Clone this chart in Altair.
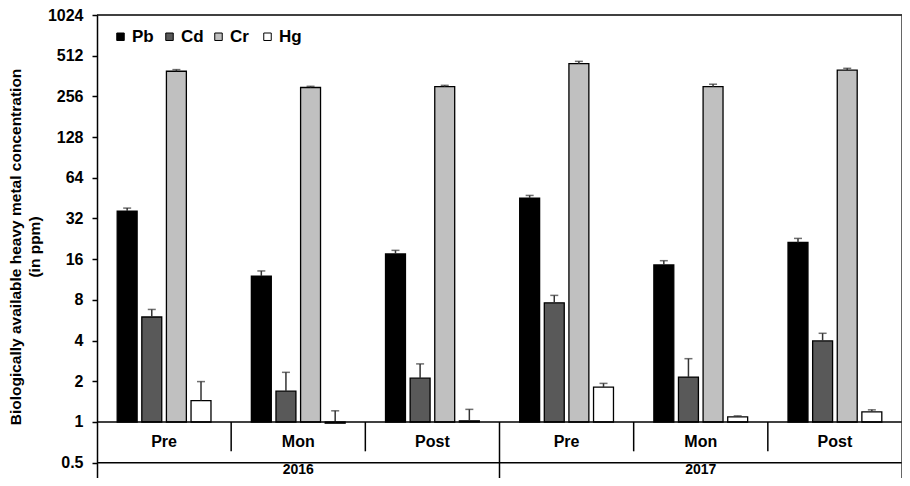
import altair as alt
import pandas as pd

# ---------------- data ----------------
groups = ["2016 Pre", "2016 Mon", "2016 Post", "2017 Pre", "2017 Mon", "2017 Post"]
seasons = ["Pre", "Mon", "Post", "Pre", "Mon", "Post"]
years = ["2016", "2016", "2016", "2017", "2017", "2017"]
metals = ["Pb", "Cd", "Cr", "Hg"]

pb = [36.3, 12.0, 17.5, 45.3, 14.5, 21.3]
pb_err = [1.9, 1.1, 1.1, 2.1, 1.1, 1.5]
cd = [5.98, 1.69, 2.11, 7.61, 2.15, 3.98]
cd_err = [0.82, 0.64, 0.58, 1.03, 0.79, 0.55]
cr = [393, 298, 302, 447, 302, 400]
cr_err = [11, 6, 7, 18, 13, 13]
hg = [1.44, 0.98, 1.02, 1.81, 1.09, 1.19]
hg_err = [0.55, 0.23, 0.22, 0.12, 0.02, 0.04]

metal_colors = ["#000000", "#595959", "#c0c0c0", "#ffffff"]
y_ticks = [0.5, 1, 2, 4, 8, 16, 32, 64, 128, 256, 512, 1024]
y_title = ["Biologically available heavy metal concentration", "(in ppm)"]

FONT = "Liberation Sans"
BASE = 1.0           # category axis crosses at 1
Y_MAX = 1024
Y_MIN = 2 ** -1.376  # bottom of the value axis (below 0.5, room for the year row)
SEASON_ROW = 0.707
YEAR_ROW = 0.4451
SEP_LOW = 0.607

# ---------------- tables ----------------
rows = []
for metal, vals, errs in [("Pb", pb, pb_err), ("Cd", cd, cd_err),
                          ("Cr", cr, cr_err), ("Hg", hg, hg_err)]:
    for g, v, e in zip(groups, vals, errs):
        rows.append({"group": g, "metal": metal, "value": v, "top": v + e, "base": BASE})
df = pd.DataFrame(rows)

season_df = pd.DataFrame({"group": groups, "label": seasons, "ly": [SEASON_ROW] * 6})
year_df = pd.DataFrame({"group": [groups[1], groups[4]], "label": [years[1], years[4]],
                        "ly": [YEAR_ROW] * 2})
sep_df = pd.DataFrame({
    "group": ["2016 Mon", "2016 Post", "2017 Pre", "2017 Mon", "2017 Post"],
    "top": [BASE] * 5,
    "bottom": [SEP_LOW, SEP_LOW, Y_MIN, SEP_LOW, SEP_LOW],
})
line_df = pd.DataFrame({"level": [1, 0.5, Y_MAX]})
frame_df = pd.DataFrame({"group": [groups[-1]], "top": [Y_MAX], "bottom": [Y_MIN]})

x_scale = alt.Scale(domain=groups, paddingInner=0, paddingOuter=0)
x_enc = alt.X("group:N", sort=groups, scale=x_scale, axis=None)
xo_enc = alt.XOffset("metal:N", sort=metals,
                     scale=alt.Scale(domain=metals, paddingInner=0.19, paddingOuter=0.82))
y_scale = alt.Scale(type="log", base=2, domain=[Y_MIN, Y_MAX], nice=False)

bars = alt.Chart(df).mark_bar(stroke="#000000", strokeWidth=1.3).encode(
    x=x_enc,
    xOffset=xo_enc,
    y=alt.Y("value:Q", scale=y_scale,
            axis=alt.Axis(values=y_ticks, format="~g", title=y_title, grid=False)),
    y2="base:Q",
    fill=alt.Fill("metal:N", sort=metals,
                  scale=alt.Scale(domain=metals, range=metal_colors),
                  legend=alt.Legend(title=None, orient="none", legendX=15, legendY=13,
                                    direction="horizontal", symbolType="square",
                                    symbolSize=56, symbolStrokeColor="#000000",
                                    symbolStrokeWidth=1, labelFont=FONT,
                                    labelFontSize=17, labelFontWeight="bold",
                                    labelColor="#000000", columnPadding=6,
                                    gridAlign="all", labelOffset=3)),
)

stems = alt.Chart(df).mark_rule(color="#333333", strokeWidth=1.5).encode(
    x=x_enc, xOffset=xo_enc, y="value:Q", y2="top:Q")

caps = alt.Chart(df).mark_tick(color="#333333", thickness=1.5, size=8).encode(
    x=x_enc, xOffset=xo_enc, y="top:Q")

hlines = alt.Chart(line_df).mark_rule(color="#000000", strokeWidth=1.5).encode(
    y="level:Q")

seps = alt.Chart(sep_df).mark_rule(color="#000000", strokeWidth=1.5).encode(
    x=alt.X("group:N", sort=groups, bandPosition=0, axis=None),
    y="top:Q", y2="bottom:Q")

right_edge = alt.Chart(frame_df).mark_rule(color="#333333", strokeWidth=1.5).encode(
    x=alt.X("group:N", sort=groups, bandPosition=1, axis=None),
    y="top:Q", y2="bottom:Q")

season_txt = alt.Chart(season_df).mark_text(
    font=FONT, fontSize=16, fontWeight="bold", color="#000000", baseline="middle"
).encode(x=alt.X("group:N", sort=groups, axis=None), y="ly:Q", text="label:N")

year_txt = alt.Chart(year_df).mark_text(
    font=FONT, fontSize=14, fontWeight="bold", color="#000000", baseline="middle"
).encode(x=alt.X("group:N", sort=groups, axis=None), y="ly:Q", text="label:N")

chart = alt.layer(bars, stems, caps, hlines, seps, right_edge, season_txt, year_txt).properties(
    width=805, height=463,
    autosize=alt.AutoSizeParams(type="none"),
    padding={"left": 89, "top": 7, "right": 0, "bottom": 0},
).configure_view(
    stroke="transparent", strokeWidth=0
).configure_axisY(
    labelFont=FONT, labelFontSize=16, labelFontWeight="bold", labelColor="#000000",
    tickColor="#000000", tickSize=5, tickWidth=1.5, domainColor="#000000",
    domainWidth=1.5, labelPadding=9,
    titleFont=FONT, titleFontSize=15.5, titleFontWeight="bold", titleColor="#000000",
    titleLineHeight=19, titlePadding=5,
)

chart.save("out.html", embed_options={"renderer": "svg", "actions": False})
